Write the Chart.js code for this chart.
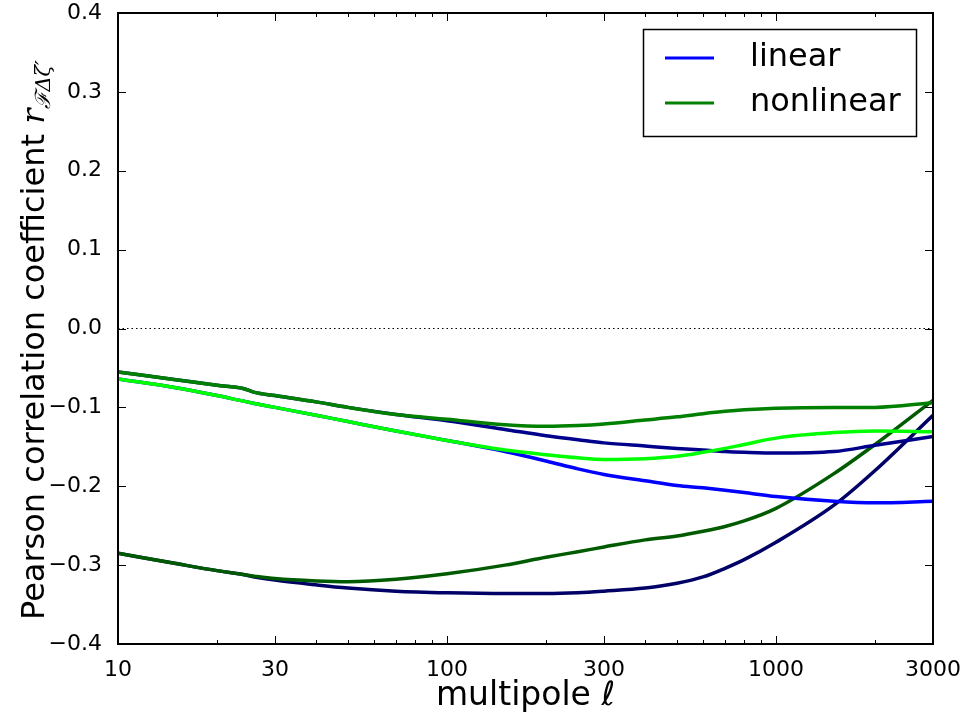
<!DOCTYPE html>
<html>
<head>
<meta charset="utf-8">
<script src="https://cdn.jsdelivr.net/npm/chart.js@4"></script>
<style>
  body { margin: 0; background: #fff; }
  canvas { display: block; }
</style>
</head>
<body>
<canvas id="corrChart" width="964" height="720"></canvas>
<script>
const ells = [10, 15, 20, 24, 26, 30, 40, 50, 70, 100, 150, 200, 250, 300, 400, 500, 600, 700, 800, 1000, 1500, 2000, 3000];

// upper pair
const linearUpper = [-0.055, -0.065, -0.072, -0.076, -0.081, -0.085, -0.093, -0.100, -0.109, -0.117, -0.128, -0.136, -0.141, -0.145, -0.149, -0.152, -0.154, -0.156, -0.157, -0.158, -0.156, -0.148, -0.137];
const nonlinearUpper = [-0.055, -0.065, -0.072, -0.076, -0.081, -0.085, -0.093, -0.100, -0.109, -0.115, -0.122, -0.124, -0.123, -0.121, -0.116, -0.112, -0.108, -0.105, -0.103, -0.101, -0.100, -0.100, -0.094];

// middle pair
const linearMid = [-0.064, -0.075, -0.085, -0.092, -0.095, -0.100, -0.110, -0.118, -0.130, -0.142, -0.156, -0.168, -0.178, -0.185, -0.193, -0.199, -0.202, -0.205, -0.208, -0.213, -0.219, -0.221, -0.219];
const nonlinearMid = [-0.064, -0.075, -0.085, -0.092, -0.095, -0.100, -0.110, -0.118, -0.130, -0.142, -0.154, -0.160, -0.164, -0.166, -0.165, -0.162, -0.157, -0.152, -0.147, -0.139, -0.132, -0.130, -0.131];

// lower pair
const linearLower = [-0.285, -0.298, -0.307, -0.312, -0.315, -0.319, -0.325, -0.329, -0.333, -0.335, -0.336, -0.336, -0.335, -0.333, -0.329, -0.323, -0.315, -0.304, -0.293, -0.271, -0.224, -0.180, -0.110];
const nonlinearLower = [-0.285, -0.298, -0.307, -0.312, -0.314, -0.317, -0.320, -0.321, -0.318, -0.311, -0.300, -0.290, -0.283, -0.277, -0.268, -0.263, -0.257, -0.251, -0.244, -0.228, -0.184, -0.147, -0.091];

// axes
const xTicks = [10, 30, 100, 300, 1000, 3000];
const xMinor = [20, 40, 50, 60, 70, 80, 90, 200, 400, 500, 600, 700, 800, 900, 2000];
const yTicks = [-0.4, -0.3, -0.2, -0.1, 0.0, 0.1, 0.2, 0.3, 0.4];
const zeroLine = [0, 0];

const legendItems = [
  { label: "linear", color: "#0000ff" },
  { label: "nonlinear", color: "#008000" }
];

const pts = vals => vals.map((v, i) => ({ x: ells[i], y: v }));

function curve(vals, color, order) {
  return {
    data: pts(vals),
    borderColor: color,
    borderWidth: 3.5,
    pointRadius: 0,
    fill: false,
    cubicInterpolationMode: "monotone",
    order
  };
}

// frame, inward ticks, legend, y label
const decorPlugin = {
  id: "decor",
  afterDatasetsDraw(chart) {
    const ctx = chart.ctx;
    const a = chart.chartArea;
    const xs = chart.scales.x;
    const ys = chart.scales.y;

    ctx.save();
    ctx.strokeStyle = "#000";

    // ticks
    ctx.lineWidth = 1;
    ctx.beginPath();
    xTicks.forEach(v => {
      const px = Math.round(xs.getPixelForValue(v)) + 0.5;
      ctx.moveTo(px, a.bottom); ctx.lineTo(px, a.bottom - 8);
      ctx.moveTo(px, a.top); ctx.lineTo(px, a.top + 8);
    });
    xMinor.forEach(v => {
      const px = Math.round(xs.getPixelForValue(v)) + 0.5;
      ctx.moveTo(px, a.bottom); ctx.lineTo(px, a.bottom - 4);
      ctx.moveTo(px, a.top); ctx.lineTo(px, a.top + 4);
    });
    yTicks.forEach(v => {
      const py = Math.round(ys.getPixelForValue(v)) + 0.5;
      ctx.moveTo(a.left, py); ctx.lineTo(a.left + 8, py);
      ctx.moveTo(a.right, py); ctx.lineTo(a.right - 8, py);
    });
    ctx.stroke();

    // frame
    ctx.lineWidth = 2;
    ctx.strokeRect(a.left, a.top, a.right - a.left, a.bottom - a.top);

    // legend
    ctx.lineWidth = 1.5;
    ctx.fillStyle = "#fff";
    ctx.fillRect(643, 29, 274, 108);
    ctx.strokeRect(643.5, 29.5, 273, 107);
    ctx.font = "32px 'DejaVu Sans'";
    ctx.textBaseline = "middle";
    legendItems.forEach((it, i) => {
      const y = 58 + i * 45;
      ctx.strokeStyle = it.color;
      ctx.lineWidth = 3;
      ctx.beginPath();
      ctx.moveTo(665, y); ctx.lineTo(714, y);
      ctx.stroke();
      ctx.fillStyle = "#000";
      ctx.fillText(it.label, 750, y);
    });

    // y axis title with math subscript
    ctx.translate(44, 620);
    ctx.rotate(-Math.PI / 2);
    ctx.textBaseline = "alphabetic";
    ctx.fillStyle = "#000";
    ctx.font = "32px 'DejaVu Sans'";
    const main = "Pearson correlation coefficient ";
    ctx.fillText(main, 0, 0);
    let off = ctx.measureText(main).width;
    ctx.font = "italic 32px 'DejaVu Serif'";
    ctx.fillText("r", off, 0);
    off += ctx.measureText("r").width;
    ctx.font = "italic 21px 'DejaVu Serif'";
    ctx.fillText("\u2131\u0394\u03B6\u2032", off, 6);
    ctx.restore();
  }
};

new Chart(document.getElementById("corrChart"), {
  type: "line",
  data: {
    datasets: [
      {
        data: [{ x: 10, y: zeroLine[0] }, { x: 3000, y: zeroLine[1] }],
        borderColor: "#000",
        borderWidth: 1.2,
        borderDash: [1.5, 3],
        pointRadius: 0,
        order: 7
      },
      curve(linearLower, "#000066", 6),
      curve(nonlinearLower, "#005a00", 5),
      curve(linearUpper, "#00008b", 4),
      curve(nonlinearUpper, "#008000", 3),
      curve(linearMid, "#0000ff", 2),
      curve(nonlinearMid, "#00ff00", 1)
    ]
  },
  options: {
    responsive: false,
    animation: false,
    layout: { padding: { top: 13, right: 31, left: 0, bottom: 0 } },
    plugins: {
      legend: { display: false },
      tooltip: { enabled: false }
    },
    scales: {
      x: {
        type: "logarithmic",
        min: 10,
        max: 3000,
        grid: { display: false },
        border: { display: false },
        afterBuildTicks: s => { s.ticks = xTicks.map(v => ({ value: v })); },
        afterFit: s => { s.height = 76; s.paddingLeft = 0; s.paddingRight = 0; },
        ticks: {
          color: "#000",
          font: { family: "DejaVu Sans", size: 22 },
          padding: 5,
          maxRotation: 0,
          autoSkip: false,
          callback: v => String(v)
        },
        title: {
          display: true,
          text: "multipole \u2113",
          color: "#000",
          font: { family: "DejaVu Sans", size: 33 },
          padding: { top: 0, bottom: 4 }
        }
      },
      y: {
        min: -0.4,
        max: 0.4,
        grid: { display: false },
        border: { display: false },
        afterBuildTicks: s => { s.ticks = yTicks.map(v => ({ value: v })); },
        afterFit: s => { s.width = 118; s.paddingTop = 0; s.paddingBottom = 0; },
        ticks: {
          color: "#000",
          font: { family: "DejaVu Sans", size: 22 },
          padding: 8,
          callback: v => (v < 0 ? "\u2212" : "") + Math.abs(v).toFixed(1)
        }
      }
    }
  },
  plugins: [decorPlugin]
});
</script>
</body>
</html>
